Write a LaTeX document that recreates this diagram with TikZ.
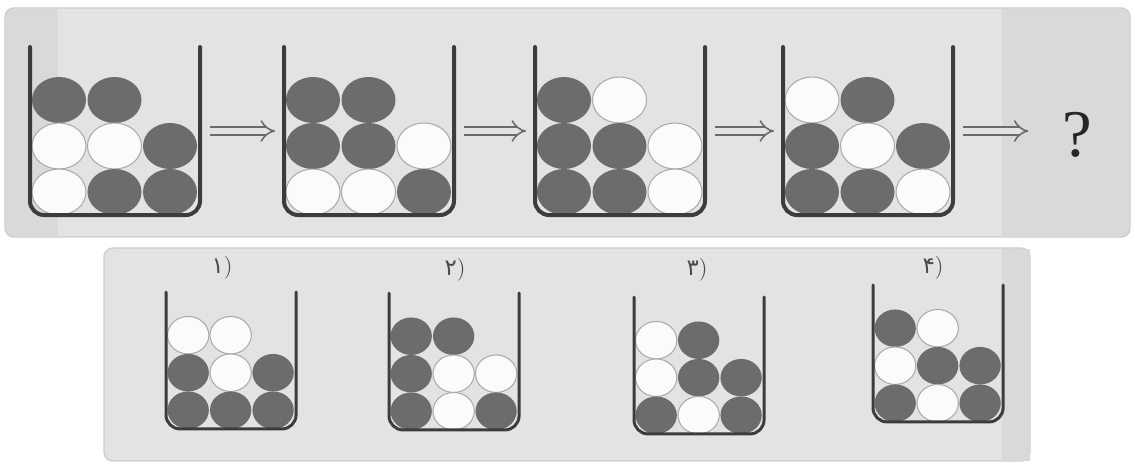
\documentclass[tikz,border=0pt]{standalone}
\usepackage{fontspec}
\newfontfamily\pfont[Script=Arabic]{DejaVu Sans}
\newfontfamily\qfont{Liberation Serif}
\usetikzlibrary{arrows.meta}
\definecolor{panel}{HTML}{E3E3E3}
\definecolor{panelrim}{HTML}{CDCDCD}
\definecolor{panelside}{HTML}{D9D9D9}
\definecolor{wallgray}{HTML}{3C3C3C}
\definecolor{darkball}{HTML}{6C6C6C}
\definecolor{lightball}{HTML}{FBFBFB}
\definecolor{ballrim}{HTML}{ABABAB}
\definecolor{arrowgray}{HTML}{6A6A6A}
\definecolor{labelgray}{HTML}{4A4A4A}

% beaker: name, left, top, xscale, yscale, wall width, balls col/row/tone
\newcommand{\beaker}[7]{%
  \begin{scope}[shift={(#2,#3)}, xscale=#4, yscale=#5]
    \foreach \cl/\rw/\tone in {#7} {
      \path[\tone] ({29+55.5*(\cl-1)},{53+46*(\rw-1)})
        ellipse [x radius=27, y radius=23];
    }
    \draw[beakerwall, line width=#6] (0,0) -- (0,168) -- (170,168) -- (170,0);
    \coordinate (#1-l) at (0,84);
    \coordinate (#1-r) at (170,84);
  \end{scope}}

\begin{document}
\begin{tikzpicture}[x=0.02cm, y=-0.02cm,
  panelbox/.style={fill=panel, draw=panelrim, line width=0.8pt, rounded corners=5pt},
  beakerwall/.style={draw=wallgray, rounded corners=8pt, line cap=round},
  dk/.style={fill=darkball},
  wt/.style={fill=lightball, draw=ballrim, line width=0.6pt},
  dblarr/.style={draw=arrowgray, line width=0.9pt, double=panel,
    double distance=0.12cm, -{Implies}, shorten <=0.2cm, shorten >=0.18cm},
  optlabel/.style={font=\fontsize{13}{15}\selectfont, text=labelgray},
]
\useasboundingbox (0,0) rectangle (1135,464);
% panels
\draw[panelbox] (5,8) rectangle (1130,237);
\draw[panelbox] (104,248) rectangle (1030,461);
\begin{scope}
  \clip[rounded corners=5pt] (5.5,8.5) rectangle (1129.5,236.5);
  \fill[panelside] (5,8) rectangle (58,237);
  \fill[panelside] (1002,8) rectangle (1130,237);
\end{scope}
\fill[panelside] (1002,248.5) rectangle (1029.5,460.5);
% sequence
\beaker{top1}{30}{47}{1}{1}{0.08cm}{1/1/dk,2/1/dk,1/2/wt,2/2/wt,3/2/dk,1/3/wt,2/3/dk,3/3/dk}
\beaker{top2}{284}{47}{1}{1}{0.08cm}{1/1/dk,2/1/dk,1/2/dk,2/2/dk,3/2/wt,1/3/wt,2/3/wt,3/3/dk}
\beaker{top3}{535}{47}{1}{1}{0.08cm}{1/1/dk,2/1/wt,1/2/dk,2/2/dk,3/2/wt,1/3/dk,2/3/dk,3/3/wt}
\beaker{top4}{783}{47}{1}{1}{0.08cm}{1/1/wt,2/1/dk,1/2/dk,2/2/wt,3/2/dk,1/3/dk,2/3/dk,3/3/wt}
\node[inner sep=2pt, text=black!85, font=\qfont\fontsize{38}{40}\selectfont] (qmark) at (1077,135) {?};
\draw[dblarr] (top1-r) -- (top2-l);
\draw[dblarr] (top2-r) -- (top3-l);
\draw[dblarr] (top3-r) -- (top4-l);
\draw[dblarr, shorten >=0.6cm] (top4-r) -- (top4-r -| qmark.west);
% options
\beaker{opt1}{166}{292}{0.765}{0.815}{0.06cm}{1/1/wt,2/1/wt,1/2/dk,2/2/wt,3/2/dk,1/3/dk,2/3/dk,3/3/dk}
\beaker{opt2}{389}{293}{0.765}{0.815}{0.06cm}{1/1/dk,2/1/dk,1/2/dk,2/2/wt,3/2/wt,1/3/dk,2/3/wt,3/3/dk}
\beaker{opt3}{634}{297}{0.765}{0.815}{0.06cm}{1/1/wt,2/1/dk,1/2/wt,2/2/dk,3/2/dk,1/3/dk,2/3/wt,3/3/dk}
\beaker{opt4}{873}{285}{0.765}{0.815}{0.06cm}{1/1/dk,2/1/wt,1/2/wt,2/2/dk,3/2/dk,1/3/dk,2/3/wt,3/3/dk}
\node[optlabel] (lab1) at (222,268) {{\pfont ۱})};
\node[optlabel] (lab2) at (455,270) {{\pfont ۲})};
\node[optlabel] (lab3) at (697,270) {{\pfont ۳})};
\node[optlabel] (lab4) at (933,268) {{\pfont ۴})};
\end{tikzpicture}
\end{document}
